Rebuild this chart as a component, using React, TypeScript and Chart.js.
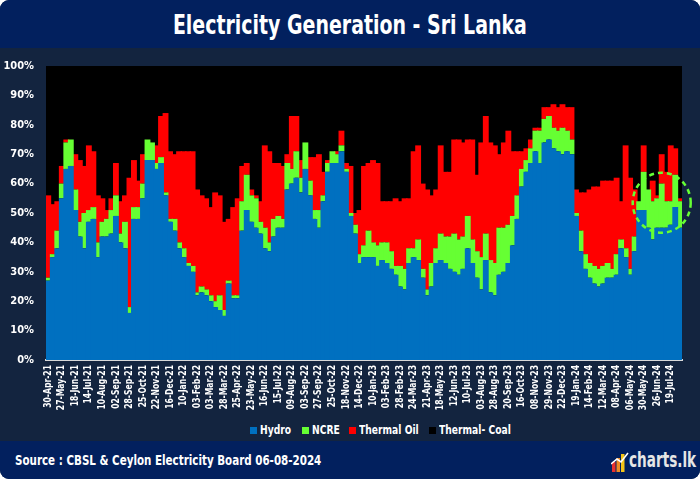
import React, { useEffect, useRef } from 'react';
import { Chart, registerables } from 'chart.js';

Chart.register(...registerables);

const tickLabels = [
  '30-Apr-21', '27-May-21', '18-Jun-21', '14-Jul-21', '10-Aug-21', '02-Sep-21', '28-Sep-21', '25-Oct-21', '22-Nov-21', '16-Dec-21',
  '10-Jan-22', '03-Feb-22', '03-Mar-22', '28-Mar-22', '25-Apr-22', '23-May-22', '16-Jun-22', '15-Jul-22', '09-Aug-22', '03-Sep-22',
  '27-Sep-22', '25-Oct-22', '18-Nov-22', '14-Dec-22', '10-Jan-23', '03-Feb-23', '28-Feb-23', '24-Mar-23', '21-Apr-23', '18-May-23',
  '12-Jun-23', '10-Jul-23', '03-Aug-23', '28-Aug-23', '20-Sep-23', '16-Oct-23', '08-Nov-23', '29-Nov-23', '22-Dec-23', '19-Jan-24',
  '14-Feb-24', '12-Mar-24', '08-Apr-24', '06-May-24', '30-May-24', '26-Jun-24', '19-Jul-24',
];

// shares in % (sampled roughly every 8 days)
const hydro = [
  27, 35, 38, 55, 65, 66, 51, 42, 38, 47, 48, 35, 42, 42, 43, 49, 40, 38, 16, 48,
  48, 55, 68, 68, 65, 67, 56, 47, 44, 38, 35, 32, 30, 22, 23, 22, 20, 18, 17, 15,
  26, 21, 21, 44, 51, 47, 45, 43, 38, 37, 42, 45, 45, 58, 60, 62, 57, 65, 56, 48,
  45, 54, 64, 67, 67, 71, 64, 49, 43, 33, 35, 35, 35, 32, 34, 33, 31, 29, 25, 24,
  33, 35, 34, 28, 22, 25, 33, 34, 33, 31, 30, 29, 31, 38, 33, 28, 24, 34, 23, 22,
  29, 30, 33, 39, 48, 59, 64, 67, 71, 67, 74, 75, 72, 71, 70, 71, 70, 49, 37, 31,
  28, 26, 25, 26, 28, 28, 29, 38, 35, 29, 37, 51, 51, 45, 41, 45, 45, 45, 46, 52,
  45,
];
const ncre = [
  1, 1, 6, 5, 9, 9, 7, 5, 12, 4, 4, 5, 5, 6, 8, 7, 3, 9, 2, 4,
  4, 5, 7, 6, 2, 2, 1, 1, 4, 2, 3, 1, 2, 1, 2, 2, 2, 2, 5, 2,
  1, 1, 1, 10, 12, 9, 10, 4, 7, 3, 6, 4, 3, 9, 5, 9, 5, 9, 5, 3,
  6, 2, 3, 4, 3, 2, 1, 1, 3, 3, 4, 9, 5, 7, 6, 7, 6, 3, 7, 7,
  5, 3, 7, 3, 2, 8, 5, 9, 9, 11, 13, 12, 11, 11, 8, 9, 11, 9, 11, 11,
  16, 15, 13, 10, 8, 6, 4, 5, 7, 11, 8, 8, 7, 7, 9, 7, 5, 1, 7, 5,
  5, 6, 6, 6, 5, 3, 7, 3, 3, 2, 5, 3, 13, 13, 13, 10, 15, 9, 8, 11,
  9,
];
const thermalOil = [
  28, 17, 10, 6, 1, 0, 12, 21, 16, 22, 19, 16, 8, 3, 4, 11, 11, 9, 44, 16,
  9, 10, 0, 0, 6, 14, 27, 23, 22, 31, 33, 38, 39, 35, 31, 31, 30, 37, 34, 30,
  21, 30, 33, 12, 4, 2, 1, 7, 28, 31, 19, 18, 18, 3, 18, 12, 6, 0, 8, 18,
  19, 8, 1, 0, 1, 5, 2, 16, 4, 15, 27, 23, 28, 28, 14, 14, 17, 23, 22, 24,
  17, 33, 32, 29, 34, 23, 20, 30, 22, 22, 32, 34, 32, 26, 34, 26, 39, 40, 40, 40,
  25, 29, 32, 22, 15, 6, 4, 3, 1, 1, 4, 3, 8, 8, 8, 8, 11, 8, 13, 21,
  25, 27, 28, 29, 28, 30, 26, 13, 35, 31, 16, 0, 9, 0, 7, 1, 10, 10, 19, 9,
  1,
];
const thermalCoal = hydro.map((h, i) => Math.max(0, 100 - h - ncre[i] - thermalOil[i]));

const STEP = 3;
const categories = hydro.map((_, i) => (i % STEP === 0 ? tickLabels[i / STEP] ?? '' : ''));

const COND = "'DejaVu Sans Condensed', 'Liberation Sans Narrow', 'Roboto Condensed', Roboto, sans-serif";

const bgPlugin = {
  id: 'areaBg',
  beforeDatasetsDraw(chart: any) {
    const { ctx, chartArea } = chart;
    ctx.save();
    ctx.fillStyle = '#000000';
    ctx.fillRect(chartArea.left, chartArea.top, chartArea.right - chartArea.left, chartArea.bottom - chartArea.top);
    ctx.restore();
  },
};

const xLabelPlugin = {
  id: 'xLabels',
  afterDraw(chart: any) {
    const { ctx } = chart;
    const xs = chart.scales.x;
    ctx.save();
    ctx.fillStyle = '#ffffff';
    ctx.font = `bold 10px ${COND}`;
    categories.forEach((lab, i) => {
      if (!lab) return;
      const x = xs.getPixelForValue(i);
      ctx.save();
      ctx.translate(x, xs.top + 5);
      ctx.rotate(-Math.PI / 2);
      ctx.scale(0.85, 1);
      ctx.textAlign = 'right';
      ctx.textBaseline = 'middle';
      ctx.fillText(lab, 0, 0);
      ctx.restore();
    });
    ctx.restore();
  },
};

const circlePlugin = {
  id: 'circleNote',
  afterDraw(chart: any) {
    const { ctx } = chart;
    const cx = chart.scales.x.getPixelForValue(136);
    const cy = chart.scales.y.getPixelForValue(53.5);
    ctx.save();
    ctx.strokeStyle = '#66ff33';
    ctx.lineWidth = 2.5;
    ctx.setLineDash([5, 4]);
    ctx.beginPath();
    ctx.ellipse(cx, cy, 29, 30, 0, 0, Math.PI * 2);
    ctx.stroke();
    ctx.restore();
  },
};

function ChartCanvas() {
  const ref = useRef<HTMLCanvasElement | null>(null);
  useEffect(() => {
    if (!ref.current) return;
    const chart = new Chart(ref.current, {
      type: 'bar',
      data: {
        labels: categories,
        datasets: [
          { label: 'Hydro', data: hydro, backgroundColor: '#0070c0' },
          { label: 'NCRE', data: ncre, backgroundColor: '#66ff33' },
          { label: 'Thermal Oil', data: thermalOil, backgroundColor: '#ff0000' },
          { label: 'Thermal- Coal', data: thermalCoal, backgroundColor: '#000000' },
        ],
      },
      options: {
        animation: false,
        responsive: false,
        maintainAspectRatio: false,
        layout: { padding: { top: 18, right: 18, left: 0, bottom: 0 } },
        datasets: { bar: { barPercentage: 1.3, categoryPercentage: 1, borderWidth: 0 } },
        plugins: { legend: { display: false }, tooltip: { enabled: false } },
        scales: {
          x: {
            stacked: true,
            grid: { display: false, drawTicks: false },
            border: { display: true, color: '#d9d9d9', width: 2 },
            ticks: { display: false },
            afterFit: (s: any) => { s.height = 60; },
          },
          y: {
            stacked: true,
            min: 0,
            max: 100,
            ticks: {
              stepSize: 10,
              callback: (v: any) => v + '%',
              color: '#ffffff',
              font: { family: COND, size: 11, weight: 'bold' },
              padding: 4,
            },
            grid: { display: false },
            border: { display: false },
            afterFit: (s: any) => { s.width = 46; },
          },
        },
      } as any,
      plugins: [bgPlugin, xLabelPlugin, circlePlugin],
    });
    return () => chart.destroy();
  }, []);
  return <canvas ref={ref} width={700} height={372} style={{ position: 'absolute', left: 0, top: 48, width: 700, height: 372 }} />;
}

const legendItems = [
  { label: 'Hydro', color: '#0070c0', sx: 250, tx: 260 },
  { label: 'NCRE', color: '#66ff33', sx: 302, tx: 312 },
  { label: 'Thermal Oil', color: '#ff0000', sx: 349, tx: 359 },
  { label: 'Thermal- Coal', color: '#000000', sx: 429, tx: 439 },
];

export default function App() {
  useEffect(() => {
    document.body.style.margin = '0';
  }, []);
  return (
    <div style={{ position: 'relative', width: 700, height: 479, background: '#ffffff', overflow: 'hidden' }}>
      <div style={{ position: 'absolute', left: 0, top: 0, width: 700, height: 479, borderRadius: 9, background: '#13243f', overflow: 'hidden' }}>
        <div style={{ position: 'absolute', left: 0, top: 0, width: 700, height: 48, background: '#02205e' }} />
        <div style={{ position: 'absolute', left: 0, top: 4, width: 700, height: 40, display: 'flex', justifyContent: 'center', alignItems: 'center' }}>
          <span style={{ display: 'inline-block', color: '#ffffff', fontFamily: COND, fontWeight: 'bold', fontSize: 27, transform: 'scaleX(0.78)', whiteSpace: 'nowrap' }}>
            Electricity Generation - Sri Lanka
          </span>
        </div>
        <ChartCanvas />
        {legendItems.map((it) => (
          <React.Fragment key={it.label}>
            <div style={{ position: 'absolute', left: it.sx, top: 427, width: 7, height: 7, background: it.color }} />
            <div style={{ position: 'absolute', left: it.tx, top: 422, height: 16, lineHeight: '16px', color: '#ffffff', fontFamily: COND, fontWeight: 'bold', fontSize: 12, whiteSpace: 'nowrap', transformOrigin: 'left center', transform: 'scaleX(0.85)' }}>
              {it.label}
            </div>
          </React.Fragment>
        ))}
        <div style={{ position: 'absolute', left: 0, top: 441, width: 700, height: 38, background: '#02205e' }} />
        <div style={{ position: 'absolute', left: 15, top: 450, height: 20, lineHeight: '20px', color: '#ffffff', fontFamily: COND, fontWeight: 'bold', fontSize: 14, whiteSpace: 'nowrap', transformOrigin: 'left center', transform: 'scaleX(0.82)' }}>
          Source : CBSL &amp; Ceylon Electricity Board 06-08-2024
        </div>
        <svg style={{ position: 'absolute', left: 611, top: 450, width: 18, height: 22 }} viewBox="0 0 18 22">
          <rect x="1" y="12" width="3.5" height="10" fill="#e8312f" />
          <rect x="5.5" y="8" width="3.5" height="14" fill="#f08a24" />
          <rect x="10" y="4" width="3.5" height="18" fill="#f5c518" />
          <polyline points="0,14 6,9 10,12 17,3" fill="none" stroke="#ffffff" strokeWidth="1.6" />
        </svg>
        <div style={{ position: 'absolute', left: 629, top: 447, height: 26, lineHeight: '26px', color: '#e6e6e6', fontFamily: COND, fontWeight: 'bold', fontSize: 21, whiteSpace: 'nowrap', transformOrigin: 'left center', transform: 'scaleX(0.72)' }}>
          charts.lk
        </div>
      </div>
    </div>
  );
}
